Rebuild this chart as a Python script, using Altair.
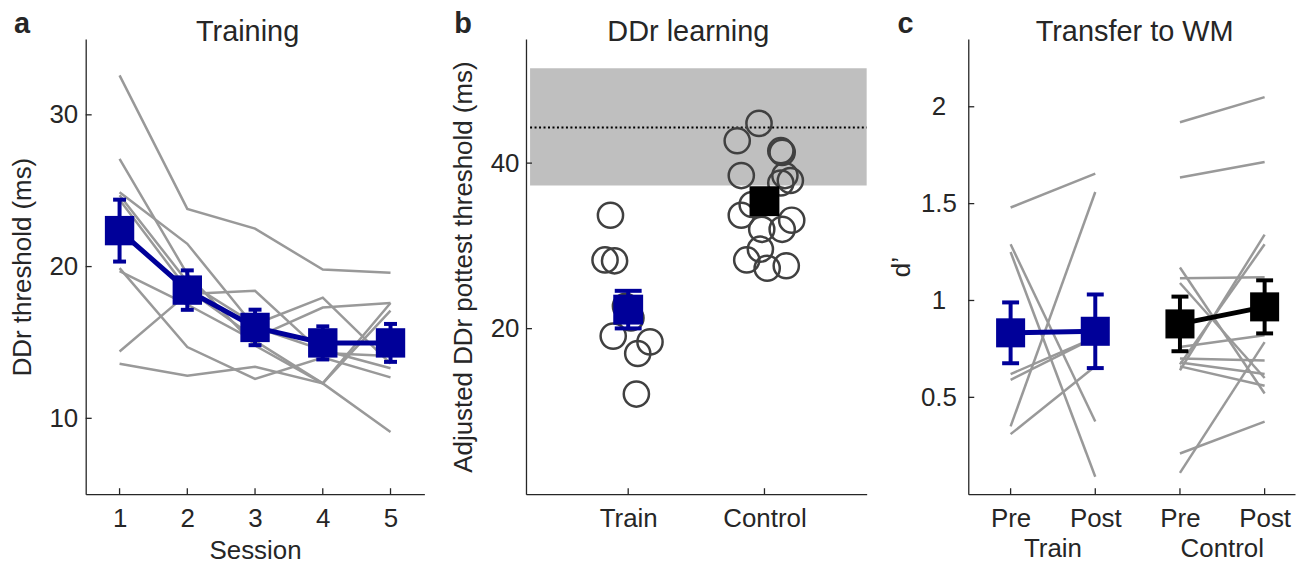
import altair as alt
import pandas as pd

FONT = "Liberation Sans"
INK = "#262626"
GREY = "#999999"
BLUE = "#000099"
RING = "#404040"
BAND = "#bfbfbf"

H = 457
WA, WB, WC = 340, 342, 328

# ---------------- Panel a: Training ----------------
sessions = [1, 2, 3, 4, 5]
subject_thresholds = [
    [32.6, 23.8, 22.5, 19.8, 19.6],
    [27.1, 19.5, 14.8, 12.3, 9.1],
    [24.9, 21.5, 16.0, 14.5, 13.3],
    [24.7, 19.0, 16.2, 17.95, 13.6],
    [24.4, 18.5, 15.3, 17.3, 17.6],
    [19.9, 14.7, 12.6, 14.0, 12.7],
    [19.7, 17.5, 15.1, 12.3, 17.6],
    [14.4, 18.2, 18.4, 14.3, 14.1],
    [13.6, 12.8, 13.4, 12.3, 17.1],
]
mean_thr = [22.37, 18.45, 15.99, 14.97, 14.97]
sem_thr = [2.04, 1.30, 1.17, 1.09, 1.25]
a_yticks = [10, 20, 30]

# ---------------- Panel b: DDr learning ----------------
train_post = [33.7, 28.3, 28.2, 22.7, 21.3, 19.1, 18.4, 17.0, 12.1]
train_jitter = [0.87, 0.83, 0.90, 0.98, 1.02, 0.89, 1.16, 1.07, 1.06]
control_post = [44.8, 42.7, 41.5, 41.3, 38.5, 38.5, 37.9, 37.6, 35.0, 33.7,
                33.1, 32.0, 32.0, 29.6, 28.3, 27.3, 27.6]
control_jitter = [1.96, 1.80, 2.12, 2.13, 1.83, 2.15, 2.19, 2.12, 1.91, 1.83,
                  2.20, 1.98, 2.13, 1.97, 1.87, 2.02, 2.16]
b_groups = ["Train", "Control"]
b_pos = [1, 2]
b_mean = [22.3, 35.4]
b_sem = [2.27, 1.3]
band_x = [0.28, 2.75]
band_low, band_high, band_mid = 37.3, 51.45, 44.3
b_yticks = [20, 40]

# ---------------- Panel c: Transfer to WM ----------------
train_pre_d = [1.48, 1.29, 1.25, 0.62, 0.59, 0.35, 0.31]
train_post_d = [1.655, 0.375, 0.09, 0.81, 0.81, 1.56, 0.66]
control_pre_d = [1.92, 1.635, 0.21, 0.11, 1.17, 1.115, 1.09, 0.76, 0.64, 0.67, 0.70, 0.68, 0.66]
control_post_d = [2.05, 1.715, 0.375, 0.785, 0.52, 1.12, 0.60, 0.82, 1.34, 1.29, 0.69, 0.62, 0.56]
c_pos = [1, 2, 3, 4]
c_tick_labels = ["Pre", "Post", "Pre", "Post"]
c_group = ["Train", "Train", "Control", "Control"]
c_mean = [0.833, 0.841, 0.879, 0.967]
c_sem = [0.157, 0.19, 0.141, 0.137]
c_group_pos = [1.5, 3.5]
c_yticks = [0.5, 1, 1.5, 2]

color_scale = alt.Scale(domain=["Train", "Control"], range=[BLUE, "#000000"])


def qs(domain):
    return alt.Scale(domain=domain, nice=False, zero=False)


def text_layer(label, x, y, size, weight="normal", align="center"):
    return alt.Chart(pd.DataFrame({"t": [label]})).mark_text(
        font=FONT, fontSize=size, fontWeight=weight, align=align,
        baseline="alphabetic", color=INK).encode(
        x=alt.value(x), y=alt.value(y), text="t:N")


def inner_ticks(xvals, yvals, XF, YF):
    xt = alt.Chart(pd.DataFrame({"v": xvals})).mark_rule(color=INK, strokeWidth=1.3).encode(
        x=XF("v:Q"), y=alt.value(H), y2=alt.value(H - 6))
    yt = alt.Chart(pd.DataFrame({"v": yvals})).mark_rule(color=INK, strokeWidth=1.3).encode(
        y=YF("v:Q"), x=alt.value(0), x2=alt.value(6))
    return [xt, yt]


def ylab_axis(values, title, pad, titlex, align="right", fmt="d"):
    return alt.Axis(values=values, title=title, labelPadding=pad, labelAlign=align,
                    labelBaseline="middle", labelFlush=False, labelOverlap=False,
                    format=fmt, grid=False, ticks=False,
                    titleX=titlex, titleY=H / 2, titleAngle=270, titleAlign="center",
                    titleBaseline="middle")


def xlab_axis(values, title, expr=None, **kw):
    d = dict(values=values, title=title, labelFlush=False, labelOverlap=False,
             labelPadding=11, grid=False, ticks=False, format="d")
    if expr:
        d["labelExpr"] = expr
    d.update(kw)
    return alt.Axis(**d)


# ======== Panel a ========
xa_dom, ya_dom = [0.5, 5.5], [5, 35]
rows = []
for i, vals in enumerate(subject_thresholds):
    for s, v in zip(sessions, vals):
        rows.append({"subj": i, "session": s, "thr": v})
df_a = pd.DataFrame(rows)
df_am = pd.DataFrame({"session": sessions, "mean": mean_thr,
                      "lo": [m - e for m, e in zip(mean_thr, sem_thr)],
                      "hi": [m + e for m, e in zip(mean_thr, sem_thr)]})
df_acap = pd.concat([df_am[["session", "lo"]].rename(columns={"lo": "y"}),
                     df_am[["session", "hi"]].rename(columns={"hi": "y"})])

ax_xa = xlab_axis(sessions, "Session", titleY=65, titleBaseline="alphabetic")
ax_ya = ylab_axis(a_yticks, "DDr threshold (ms)", 8, -63)

XA = lambda f: alt.X(f, scale=qs(xa_dom), axis=ax_xa)
YA = lambda f: alt.Y(f, scale=qs(ya_dom), axis=ax_ya)

grey_a = alt.Chart(df_a).mark_line(color=GREY, strokeWidth=2.5).encode(
    x=XA("session:Q"), y=YA("thr:Q"), detail="subj:N")
err_a = alt.Chart(df_am).mark_rule(color=BLUE, strokeWidth=4).encode(
    x=XA("session:Q"), y=YA("lo:Q"), y2="hi:Q")
cap_a = alt.Chart(df_acap).mark_tick(orient="horizontal", color=BLUE, size=13, thickness=4, opacity=1).encode(
    x=XA("session:Q"), y=YA("y:Q"))
mline_a = alt.Chart(df_am).mark_line(color=BLUE, strokeWidth=5).encode(
    x=XA("session:Q"), y=YA("mean:Q"))
sq_a = alt.Chart(df_am).mark_square(color=BLUE, size=870, filled=True, opacity=1).encode(
    x=XA("session:Q"), y=YA("mean:Q"))
pin = alt.Chart(pd.DataFrame({"p": [0]})).mark_point(filled=True, opacity=0, size=1).encode(
    x=alt.value(-76.5), y=alt.value(-31.5))

panel_a = alt.layer(
    grey_a, err_a, cap_a, mline_a, sq_a, *inner_ticks(sessions, a_yticks, XA, YA),
    text_layer("Training", 162.5, 2, 29),
    text_layer("a", -72, -6, 29, "bold", "left"),
    pin,
).properties(width=WA, height=H)

# ======== Panel b ========
xb_dom, yb_dom = [0.25, 2.75], [0, 55]
ax_xb = xlab_axis(b_pos, "", "datum.value == 1 ? 'Train' : 'Control'")
ax_yb = ylab_axis(b_yticks, "Adjusted DDr pottest threshold (ms)", 7, -63)
XB = lambda f: alt.X(f, scale=qs(xb_dom), axis=ax_xb)
YB = lambda f: alt.Y(f, scale=qs(yb_dom), axis=ax_yb)

df_band = pd.DataFrame({"x1": [band_x[0]], "x2": [band_x[1]], "lo": [band_low], "hi": [band_high], "mid": [band_mid]})
band = alt.Chart(df_band).mark_rect(color=BAND, opacity=1).encode(
    x=XB("x1:Q"), x2="x2:Q", y=YB("lo:Q"), y2="hi:Q")
dotted = alt.Chart(df_band).mark_rule(color="#000000", strokeWidth=2, strokeDash=[2, 2.5]).encode(
    x=XB("x1:Q"), x2="x2:Q", y=YB("mid:Q"))
df_pts = pd.DataFrame({
    "x": train_jitter + control_jitter,
    "v": train_post + control_post,
})
circles = alt.Chart(df_pts).mark_point(shape="circle", filled=False, size=640, stroke=RING,
                                       strokeWidth=2.5, opacity=1).encode(
    x=XB("x:Q"), y=YB("v:Q"))
df_bm = pd.DataFrame({"pos": b_pos, "g": b_groups, "mean": b_mean,
                      "lo": [m - e for m, e in zip(b_mean, b_sem)],
                      "hi": [m + e for m, e in zip(b_mean, b_sem)]})
df_bcap = pd.concat([df_bm[["pos", "g", "lo"]].rename(columns={"lo": "y"}),
                     df_bm[["pos", "g", "hi"]].rename(columns={"hi": "y"})])
col = alt.Color("g:N", scale=color_scale, legend=None)
err_b = alt.Chart(df_bm).mark_rule(strokeWidth=4).encode(
    x=XB("pos:Q"), y=YB("lo:Q"), y2="hi:Q", color=col)
cap_b = alt.Chart(df_bcap).mark_tick(orient="horizontal", size=27, thickness=4, opacity=1).encode(
    x=XB("pos:Q"), y=YB("y:Q"), color=col)
sq_b = alt.Chart(df_bm).mark_square(size=900, filled=True, opacity=1).encode(
    x=XB("pos:Q"), y=YB("mean:Q"), color=col)

panel_b = alt.layer(
    band, dotted, circles, err_b, cap_b, sq_b, *inner_ticks(b_pos, b_yticks, XB, YB),
    text_layer("DDr learning", 163, 2, 29),
    text_layer("b", -72, -6, 29, "bold", "left"),
).properties(width=WB, height=H)

# ======== Panel c ========
xc_dom, yc_dom = [0.5, 0.5 + WC / 85.0], [0, 2.35]
ax_xc = xlab_axis(c_pos, "", "['', 'Pre', 'Post', 'Pre', 'Post'][datum.value]")
ax_yc = ylab_axis(c_yticks, "d\u2019", 30, -67, align="center", fmt="~r")
XC = lambda f: alt.X(f, scale=qs(xc_dom), axis=ax_xc)
YC = lambda f: alt.Y(f, scale=qs(yc_dom), axis=ax_yc)

rows = []
k = 0
for pre, post in zip(train_pre_d, train_post_d):
    rows += [{"id": k, "x": 1, "d": pre}, {"id": k, "x": 2, "d": post}]
    k += 1
for pre, post in zip(control_pre_d, control_post_d):
    rows += [{"id": k, "x": 3, "d": pre}, {"id": k, "x": 4, "d": post}]
    k += 1
df_c = pd.DataFrame(rows)
df_cm = pd.DataFrame({"pos": c_pos, "g": c_group, "mean": c_mean,
                      "lo": [m - e for m, e in zip(c_mean, c_sem)],
                      "hi": [m + e for m, e in zip(c_mean, c_sem)]})
df_ccap = pd.concat([df_cm[["pos", "g", "lo"]].rename(columns={"lo": "y"}),
                     df_cm[["pos", "g", "hi"]].rename(columns={"hi": "y"})])

grey_c = alt.Chart(df_c).mark_line(color=GREY, strokeWidth=2.5).encode(
    x=XC("x:Q"), y=YC("d:Q"), detail="id:N")
err_c = alt.Chart(df_cm).mark_rule(strokeWidth=4).encode(
    x=XC("pos:Q"), y=YC("lo:Q"), y2="hi:Q", color=col)
cap_c = alt.Chart(df_ccap).mark_tick(orient="horizontal", size=17, thickness=4, opacity=1).encode(
    x=XC("pos:Q"), y=YC("y:Q"), color=col)
mline_c = alt.Chart(df_cm).mark_line(strokeWidth=5).encode(
    x=XC("pos:Q"), y=YC("mean:Q"), color=col, detail="g:N")
sq_c = alt.Chart(df_cm).mark_square(size=850, filled=True, opacity=1).encode(
    x=XC("pos:Q"), y=YC("mean:Q"), color=col)
grp_lbl = alt.Chart(pd.DataFrame({"pos": c_group_pos, "g": ["Train", "Control"]})).mark_text(
    font=FONT, fontSize=26, color=INK, baseline="alphabetic", align="center").encode(
    x=XC("pos:Q"), y=alt.value(520), text="g:N")

panel_c = alt.layer(
    grey_c, err_c, cap_c, mline_c, sq_c, grp_lbl, *inner_ticks(c_pos, c_yticks, XC, YC),
    text_layer("Transfer to WM", 167, 2, 29),
    text_layer("c", -71, -6, 29, "bold", "left"),
).properties(width=WC, height=H)

chart = alt.hconcat(panel_a, panel_b, panel_c, spacing=102, bounds="flush").properties(
    padding={"left": 0, "top": -3, "right": 0, "bottom": 0}
).configure(font=FONT).configure_axis(
    domainColor=INK, domainWidth=1.3, ticks=False, grid=False,
    labelFont=FONT, labelFontSize=26, labelColor=INK,
    titleFont=FONT, titleFontSize=26, titleFontWeight="normal", titleColor=INK,
).configure_view(stroke="transparent")

chart.save("out.html", embed_options={"renderer": "svg", "actions": False})
